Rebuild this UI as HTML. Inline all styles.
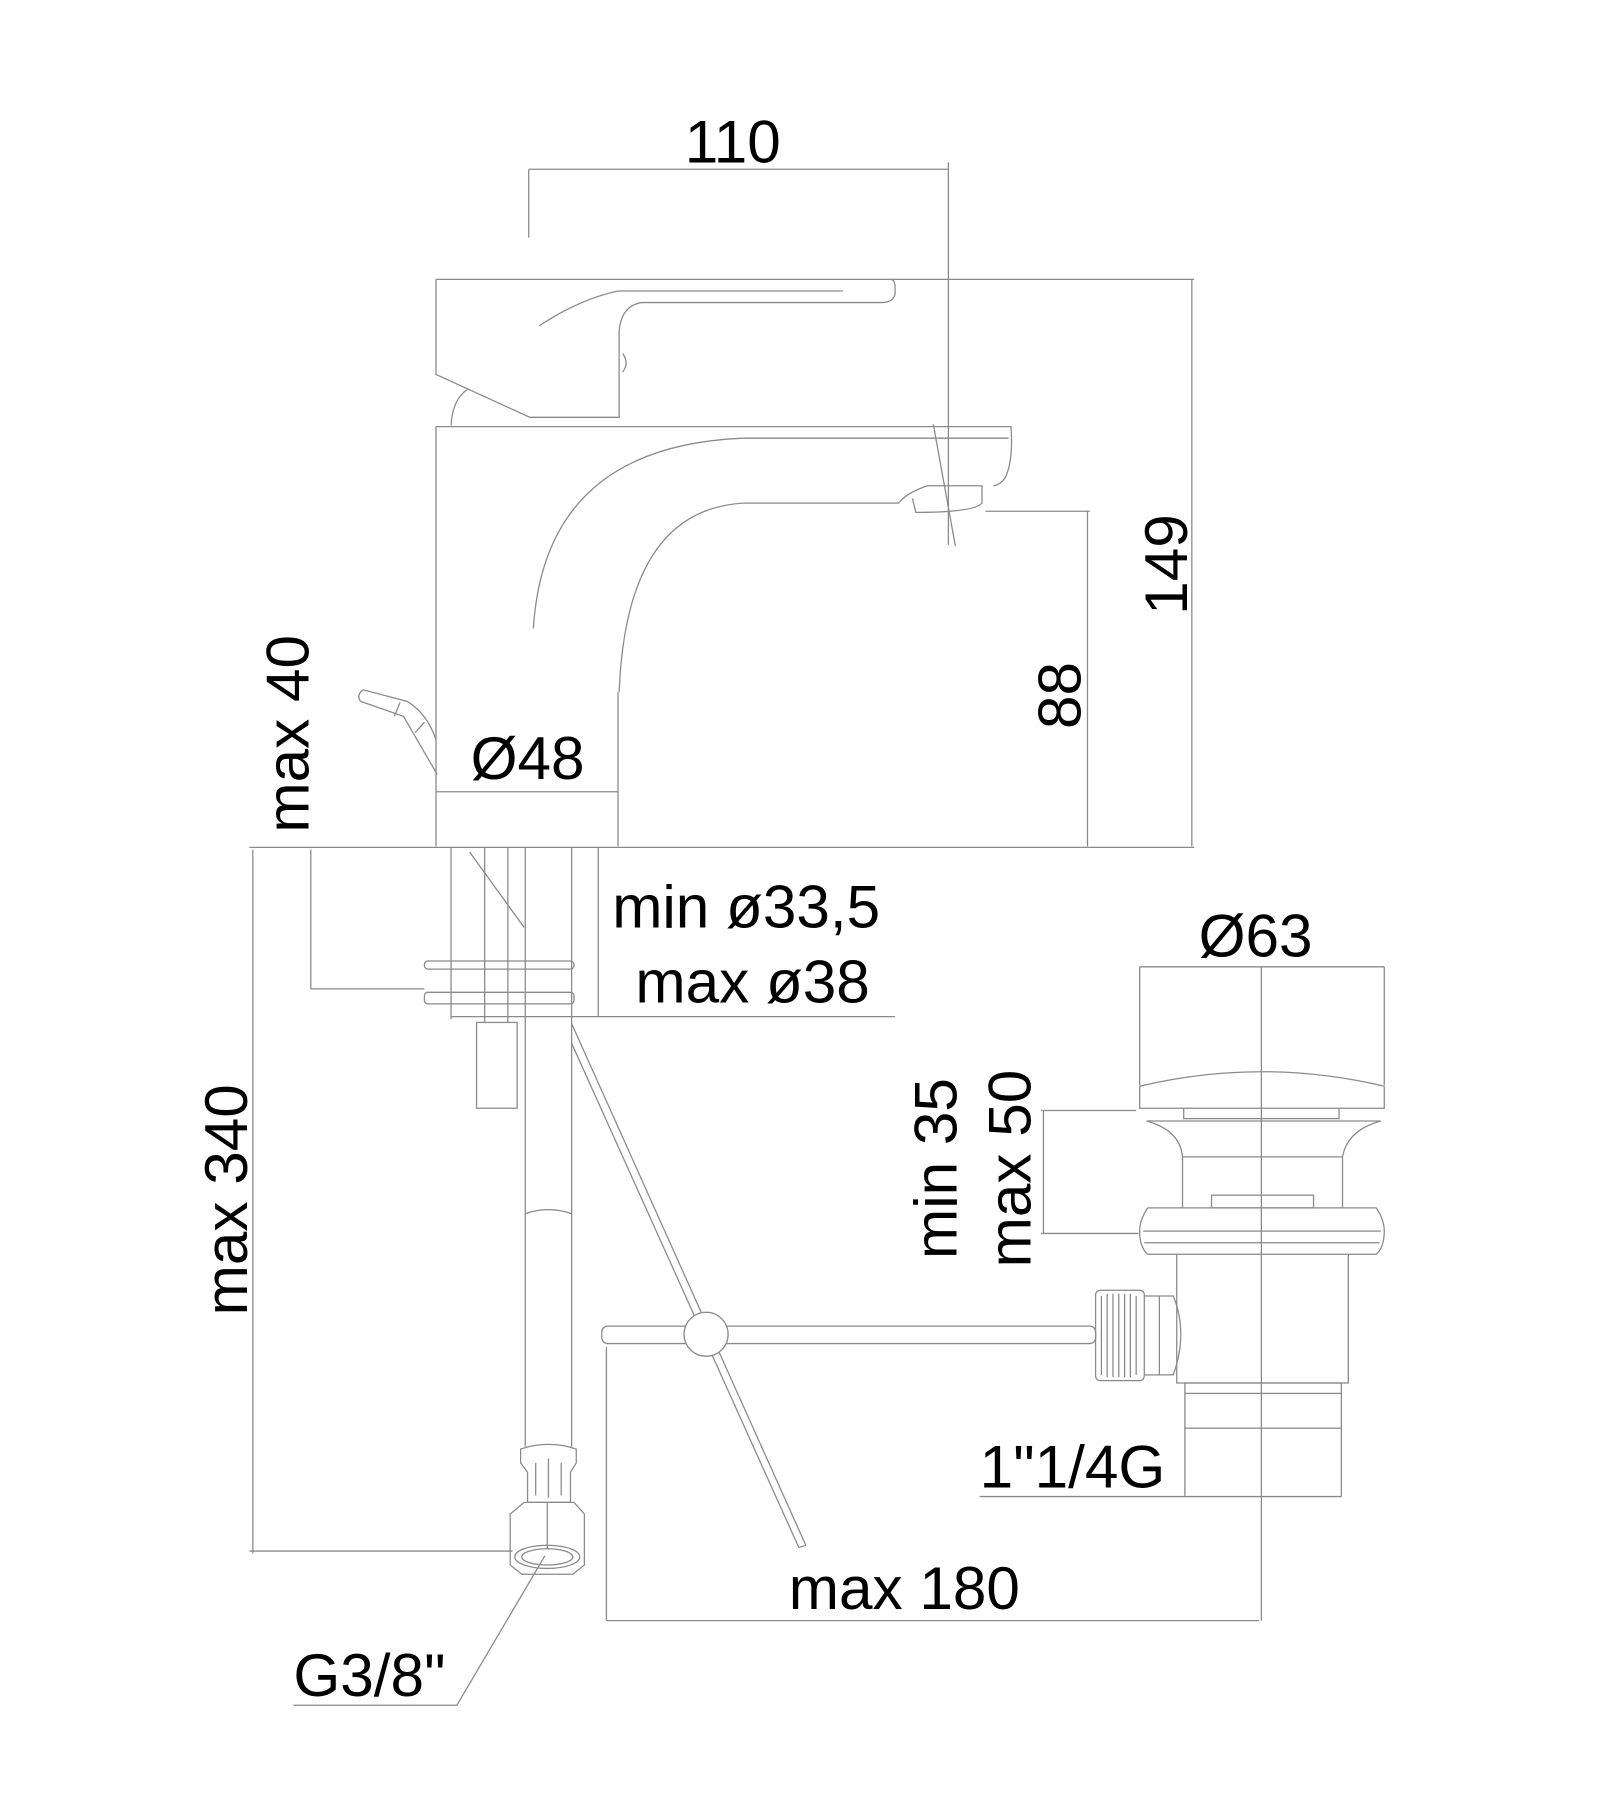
<!DOCTYPE html>
<html><head><meta charset="utf-8"><style>
html,body{margin:0;padding:0;background:#fff}
svg{display:block}
text{font-family:"Liberation Sans",sans-serif;font-size:52px;fill:#000}
</style></head><body>
<svg width="1600" height="1820" viewBox="0 0 1380 1570" xmlns="http://www.w3.org/2000/svg">
<g fill="none" stroke="#8a8a8a" stroke-width="1.1">
<!-- 110 dim -->
<line x1="456" y1="146" x2="818" y2="146"/>
<line x1="456" y1="146" x2="456" y2="205"/>
<line x1="818" y1="140" x2="818" y2="470"/>
<!-- top ext line 149 -->
<line x1="768" y1="241" x2="1030" y2="241"/>
<line x1="1028" y1="241" x2="1028" y2="730"/>
<!-- upper body -->
<path d="M376 241 L768 241 Q772 241 772 248 L772 254 Q770 261 760 261 L553 261 Q536 264 534 285 L534 360 L457 360 L376 323 L376 241"/>
<path d="M533 251 L727 251"/>
<path d="M465 281 Q500 258 533 251"/>
<path d="M389 367 Q390 345 403 336"/>
<path d="M537 305 Q543 313 537 321"/>
<!-- lower body -->
<path d="M376 368 L872 368 Q874 395 868 410 Q864 418 857 419"/>
<path d="M376 368 L376 730 M533 597 L533 730"/>
<path d="M641 378 L870 378"/>
<path d="M641 378 Q470 385 460 542"/>
<path d="M641 434 Q540 440 534 597"/>
<path d="M641 434 L775 434 Q782 425 800 419 L847 419 L847 434 Q840 442 790 442 L787 430"/>
<line x1="805" y1="366" x2="824" y2="471"/>
<!-- 88 dim -->
<line x1="850" y1="441" x2="940" y2="441"/>
<line x1="938" y1="441" x2="938" y2="730"/>
<!-- bottom line -->
<line x1="215" y1="731" x2="1030" y2="731"/>
<!-- Ø48 -->
<line x1="376" y1="683" x2="533" y2="683"/>
<!-- lever -->
<path d="M313 595 L351 605 Q368 615 376 638 M311 605 L348 618 L377 668 M313 595 Q307 600 311 605 M345 606 L340 618 M366 623 L358 632"/>
<!-- max 340 / max40 -->
<line x1="218" y1="733" x2="218" y2="1340"/>
<line x1="215" y1="1338" x2="442" y2="1338"/>
<line x1="268" y1="733" x2="268" y2="853"/>
<line x1="268" y1="853" x2="366" y2="853"/>
<!-- shafts -->
<line x1="389" y1="731" x2="389" y2="879"/>
<line x1="418" y1="731" x2="418" y2="882"/>
<line x1="438" y1="731" x2="438" y2="882"/>
<line x1="453" y1="731" x2="453" y2="1248"/>
<line x1="493" y1="731" x2="493" y2="1248"/>
<line x1="405" y1="735" x2="452" y2="800"/>
<rect x="366" y="829" width="129" height="7" rx="3"/>
<rect x="366" y="856" width="129" height="10" rx="3"/>
<line x1="389" y1="877" x2="772" y2="877"/>
<line x1="516" y1="731" x2="516" y2="877"/>
<rect x="411" y="882" width="35" height="74"/>
<path d="M453 1047 Q473 1040 493 1047"/>
<!-- fitting -->
<path d="M449 1250 Q473 1242 497 1250 L497 1262 L492 1270 L492 1296 L455 1296 L455 1270 L449 1262 Z"/>
<path d="M462 1262 L462 1290 M473 1258 L473 1292 M484 1262 L484 1290"/>
<path d="M440 1306 L452 1296 L495 1296 L504 1306 L504 1350 L494 1358 L450 1358 L440 1350 Z"/>
<line x1="472" y1="1296" x2="472" y2="1336"/>
<ellipse cx="472" cy="1343" rx="28" ry="10"/>
<ellipse cx="472" cy="1343" rx="22" ry="7"/>
<!-- G3/8 leader -->
<polyline points="470,1342 394,1471 253,1471"/>
<!-- pop-up rod -->
<line x1="493" y1="883" x2="695" y2="1333"/>
<line x1="493" y1="900" x2="689" y2="1335"/>
<line x1="689" y1="1335" x2="695" y2="1333"/>
<rect x="519" y="1144" width="426" height="15" rx="5"/>
<circle cx="609" cy="1151" r="19" fill="#fff"/>
<!-- max 180 -->
<line x1="523" y1="1162" x2="523" y2="1398"/>
<line x1="523" y1="1398" x2="1086" y2="1398"/>
<line x1="1088" y1="834" x2="1088" y2="1398"/>
<!-- drain -->
<line x1="983" y1="834" x2="1194" y2="834"/>
<line x1="983" y1="834" x2="983" y2="936"/>
<line x1="1194" y1="834" x2="1194" y2="936"/>
<path d="M983 937 Q1088 912 1194 937 L1194 956 L983 956 Z"/>
<path d="M1021 956 L1021 965 L1155 965 L1155 956"/>
<path d="M989 967 L1191 967 Q1162 975 1158 998 L1158 1042 M989 967 Q1018 975 1020 998 L1020 1042 M1020 998 L1158 998"/>
<rect x="1045" y="1031" width="88" height="11"/>
<path d="M990 1042 L1187 1042 Q1194 1052 1194 1062 Q1194 1076 1187 1082 L990 1082 Q983 1076 983 1062 Q983 1052 990 1042 Z"/>
<line x1="986" y1="1062" x2="1191" y2="1062"/>
<line x1="987" y1="1072" x2="1190" y2="1072"/>
<path d="M1015 1082 L1015 1193 L1163 1193 L1163 1082"/>
<rect x="1022" y="1193" width="135" height="39"/>
<line x1="1022" y1="1202" x2="1157" y2="1202"/>
<!-- side connector -->
<rect x="945" y="1113" width="42" height="78" rx="4"/>
<path d="M950 1118 L950 1186 M955 1116 L955 1188 M960 1116 L960 1188 M965 1116 L965 1188 M970 1116 L970 1188 M975 1116 L975 1188 M980 1118 L980 1186"/>
<path d="M987 1118 L1012 1118 Q1025 1150 1012 1186 L987 1186"/>
<line x1="1000" y1="1118" x2="1000" y2="1186"/>
<!-- min35 -->
<line x1="898" y1="958" x2="980" y2="958"/>
<line x1="898" y1="1064" x2="982" y2="1064"/>
<line x1="900" y1="958" x2="900" y2="1064"/>
<!-- 1"1/4G -->
<line x1="845" y1="1291" x2="1157" y2="1291"/>
<line x1="1022" y1="1232" x2="1022" y2="1291"/>
<line x1="1157" y1="1232" x2="1157" y2="1291"/>
</g>
<text x="632" y="140" text-anchor="middle">110</text>
<text x="455" y="672" text-anchor="middle">Ø48</text>
<text x="528" y="800">min ø33,5</text>
<text x="548" y="865">max ø38</text>
<text x="1083" y="825" text-anchor="middle">Ø63</text>
<text x="845" y="1283">1"1/4G</text>
<text x="780" y="1388" text-anchor="middle">max 180</text>
<text x="253" y="1463">G3/8"</text>
<text transform="translate(1024,487) rotate(-90)" text-anchor="middle">149</text>
<text transform="translate(932,600) rotate(-90)" text-anchor="middle">88</text>
<text transform="translate(266,633) rotate(-90)" text-anchor="middle">max 40</text>
<text transform="translate(213,1035) rotate(-90)" text-anchor="middle">max 340</text>
<text transform="translate(825,1008) rotate(-90)" text-anchor="middle">min 35</text>
<text transform="translate(889,1008) rotate(-90)" text-anchor="middle">max 50</text>
</svg>
</body></html>
